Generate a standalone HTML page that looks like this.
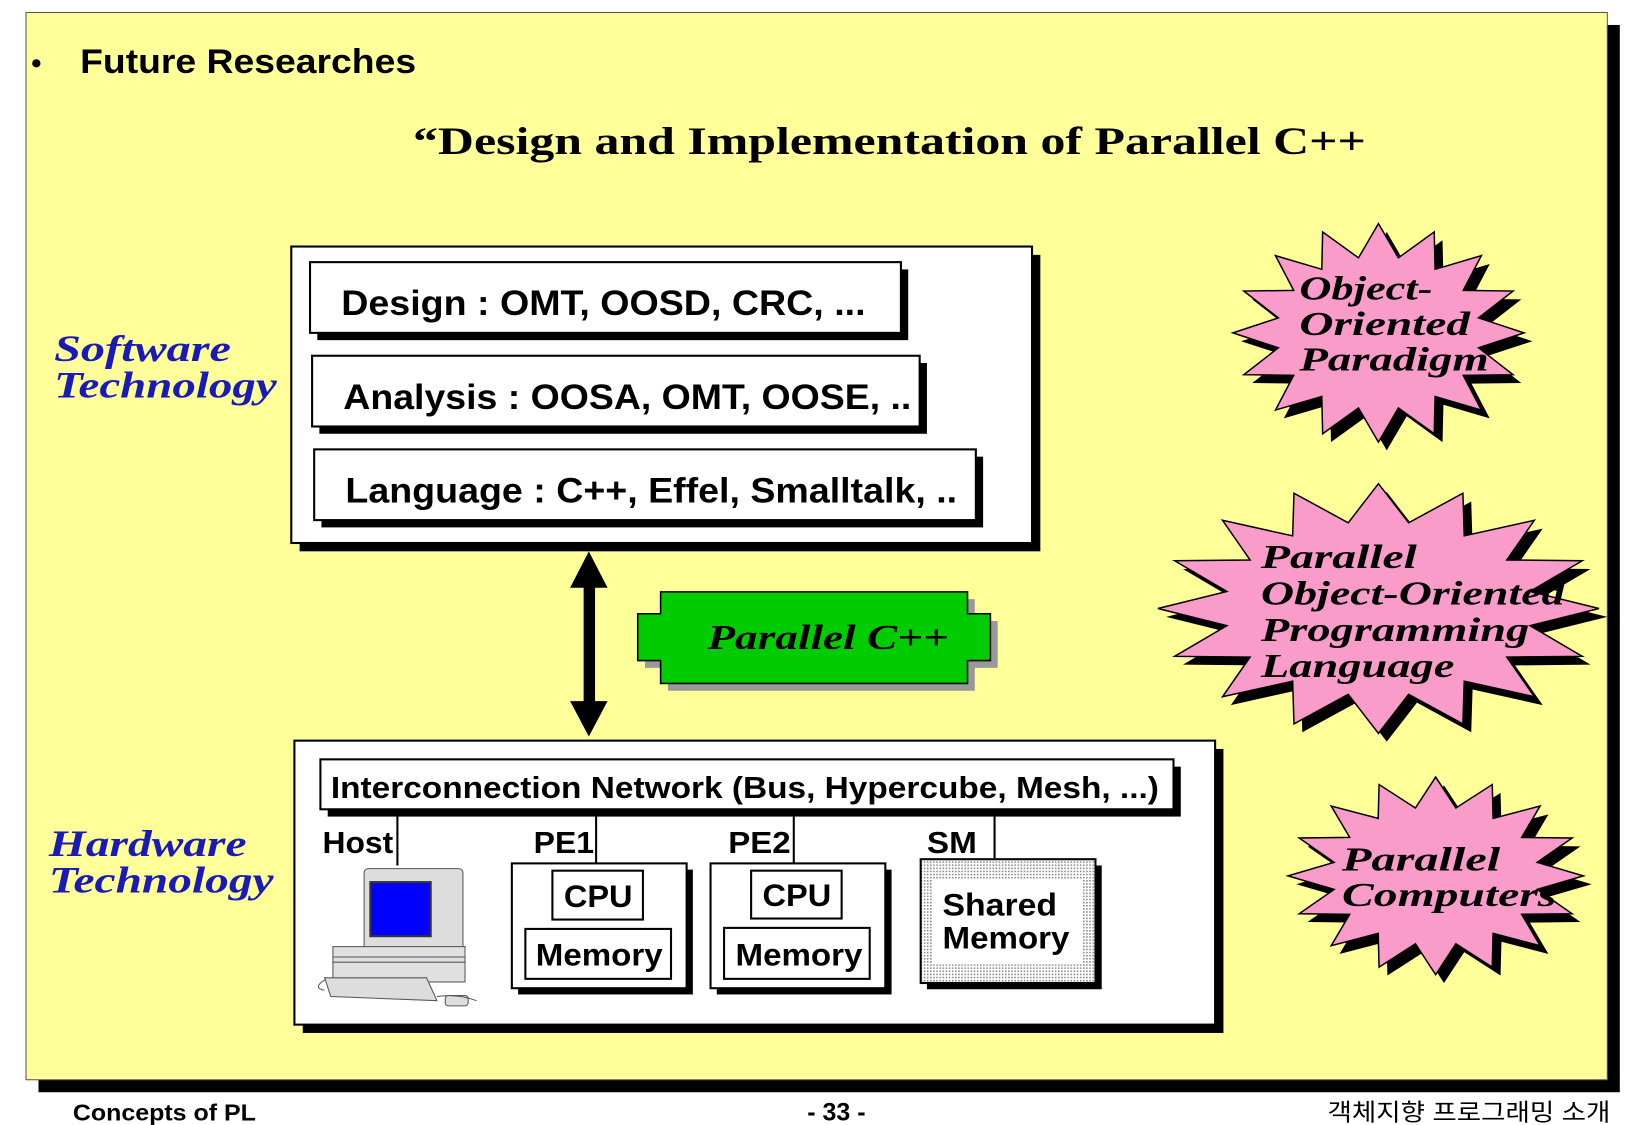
<!DOCTYPE html>
<html><head><meta charset="utf-8"><style>
html,body{margin:0;padding:0;background:#fff;}
svg{display:block;}
.a{font-family:"Liberation Sans",Arial,sans-serif;font-weight:bold;}
.s{font-family:"Liberation Serif",serif;font-weight:bold;}
.si{font-family:"Liberation Serif",serif;font-weight:bold;font-style:italic;}
</style></head><body>
<svg width="1625" height="1125" viewBox="0 0 1562 1081.5" preserveAspectRatio="none" xmlns="http://www.w3.org/2000/svg">
<defs>
<polygon id="st" vector-effect="non-scaling-stroke" points="100,0 68.7,13.7 92.4,38.3 58.2,38.9 70.7,70.7 38.9,58.2 38.3,92.4 13.7,68.7 0,100 -13.7,68.7 -38.3,92.4 -38.9,58.2 -70.7,70.7 -58.2,38.9 -92.4,38.3 -68.7,13.7 -100,0 -68.7,-13.7 -92.4,-38.3 -58.2,-38.9 -70.7,-70.7 -38.9,-58.2 -38.3,-92.4 -13.7,-68.7 0,-100 13.7,-68.7 38.3,-92.4 38.9,-58.2 70.7,-70.7 58.2,-38.9 92.4,-38.3 68.7,-13.7"/>
<pattern id="dots" width="3" height="3" patternUnits="userSpaceOnUse"><rect width="3" height="3" fill="#fff"/><rect width="1.5" height="1.5" fill="#888"/></pattern>
</defs>
<rect x="0" y="0" width="1562" height="1082" fill="#fff"/>
<rect x="37" y="24" width="1520" height="1026" fill="#000"/>
<rect x="25" y="12" width="1520" height="1026" fill="#ffff99" stroke="#555" stroke-width="1"/>
<text x="30" y="70" class="a" font-size="28">•</text>
<text x="77" y="70" class="a" font-size="33" textLength="323" lengthAdjust="spacingAndGlyphs">Future Researches</text>
<text x="397" y="148" class="s" font-size="38" textLength="916" lengthAdjust="spacingAndGlyphs">“Design and Implementation of Parallel C++</text>

<text x="52" y="347" class="si" font-size="36" fill="#1a1ab8" textLength="170" lengthAdjust="spacingAndGlyphs">Software</text>
<text x="52" y="382" class="si" font-size="36" fill="#1a1ab8" textLength="214" lengthAdjust="spacingAndGlyphs">Technology</text>
<rect x="288" y="245" width="712" height="285" fill="#000"/>
<rect x="280" y="237" width="712" height="285" fill="#fff" stroke="#000" stroke-width="2"/>
<rect x="305" y="259" width="568" height="68" fill="#000"/>
<rect x="298" y="252" width="568" height="68" fill="#fff" stroke="#000" stroke-width="2"/>
<text x="328" y="303" class="a" font-size="34" textLength="504" lengthAdjust="spacingAndGlyphs">Design : OMT, OOSD, CRC, ...</text>
<rect x="307" y="349" width="584" height="68" fill="#000"/>
<rect x="300" y="342" width="584" height="68" fill="#fff" stroke="#000" stroke-width="2"/>
<text x="330" y="393" class="a" font-size="34" textLength="546" lengthAdjust="spacingAndGlyphs">Analysis : OOSA, OMT, OOSE, ..</text>
<rect x="309" y="439" width="636" height="68" fill="#000"/>
<rect x="302" y="432" width="636" height="68" fill="#fff" stroke="#000" stroke-width="2"/>
<text x="332" y="483" class="a" font-size="34" textLength="588" lengthAdjust="spacingAndGlyphs">Language : C++, Effel, Smalltalk, ..</text>

<rect x="561" y="560" width="11" height="120" fill="#000"/>
<polygon points="566,530 584,565 548,565" fill="#000"/>
<polygon points="566,708 584,674 548,674" fill="#000"/>

<polygon points="642,576 937,576 937,597 959,597 959,642 937,642 937,664 642,664 642,642 620,642 620,597 642,597" fill="#999"/>
<polygon points="635,569 930,569 930,590 952,590 952,635 930,635 930,657 635,657 635,635 613,635 613,590 635,590" fill="#00cc00" stroke="#000" stroke-width="1.5"/>
<text x="680" y="624" class="si" font-size="34" textLength="232" lengthAdjust="spacingAndGlyphs">Parallel C++</text>

<text x="47" y="823" class="si" font-size="36" fill="#1a1ab8" textLength="190" lengthAdjust="spacingAndGlyphs">Hardware</text>
<text x="47" y="858" class="si" font-size="36" fill="#1a1ab8" textLength="216" lengthAdjust="spacingAndGlyphs">Technology</text>
<rect x="291" y="720" width="885" height="273" fill="#000"/>
<rect x="283" y="712" width="885" height="273" fill="#fff" stroke="#000" stroke-width="2"/>
<rect x="315" y="737" width="820" height="48" fill="#000"/>
<rect x="308" y="730" width="820" height="48" fill="#fff" stroke="#000" stroke-width="2"/>
<text x="318" y="767" class="a" font-size="29" textLength="796" lengthAdjust="spacingAndGlyphs">Interconnection Network (Bus, Hypercube, Mesh, ...)</text>
<g stroke="#000" stroke-width="2">
<line x1="382" y1="778" x2="382" y2="832"/>
<line x1="573" y1="778" x2="573" y2="830"/>
<line x1="763" y1="778" x2="763" y2="830"/>
<line x1="956" y1="778" x2="956" y2="825"/>
</g>
<text x="310" y="820" class="a" font-size="29" textLength="68" lengthAdjust="spacingAndGlyphs">Host</text>
<text x="513" y="820" class="a" font-size="29" textLength="58" lengthAdjust="spacingAndGlyphs">PE1</text>
<text x="700" y="820" class="a" font-size="29" textLength="60" lengthAdjust="spacingAndGlyphs">PE2</text>
<text x="891" y="820" class="a" font-size="29" textLength="48" lengthAdjust="spacingAndGlyphs">SM</text>

<rect x="498" y="836" width="168" height="120" fill="#000"/>
<rect x="492" y="830" width="168" height="120" fill="#fff" stroke="#000" stroke-width="2"/>
<rect x="531" y="837" width="87" height="47" fill="#fff" stroke="#000" stroke-width="2"/>
<text x="542" y="872" class="a" font-size="30" textLength="66" lengthAdjust="spacingAndGlyphs">CPU</text>
<rect x="505" y="893" width="140" height="48" fill="#fff" stroke="#000" stroke-width="2"/>
<text x="515" y="928" class="a" font-size="30" textLength="122" lengthAdjust="spacingAndGlyphs">Memory</text>

<rect x="689" y="836" width="168" height="120" fill="#000"/>
<rect x="683" y="830" width="168" height="120" fill="#fff" stroke="#000" stroke-width="2"/>
<rect x="722" y="837" width="87" height="46" fill="#fff" stroke="#000" stroke-width="2"/>
<text x="733" y="871" class="a" font-size="30" textLength="66" lengthAdjust="spacingAndGlyphs">CPU</text>
<rect x="696" y="892" width="140" height="49" fill="#fff" stroke="#000" stroke-width="2"/>
<text x="707" y="928" class="a" font-size="30" textLength="122" lengthAdjust="spacingAndGlyphs">Memory</text>

<rect x="891" y="832" width="168" height="119" fill="#000"/>
<rect x="885" y="826" width="168" height="119" fill="url(#dots)" stroke="#000" stroke-width="2"/>
<rect x="896" y="845" width="145" height="82" fill="#fff"/>
<text x="906" y="880" class="a" font-size="30" textLength="110" lengthAdjust="spacingAndGlyphs">Shared</text>
<text x="906" y="912" class="a" font-size="30" textLength="122" lengthAdjust="spacingAndGlyphs">Memory</text>

<g stroke="#555" stroke-width="1">
<rect x="350" y="835" width="95" height="80" rx="4" fill="#ddd"/>
<rect x="356" y="848" width="58" height="52" fill="#0000ff" stroke="#333" stroke-width="2"/>
<rect x="320" y="910" width="127" height="34" fill="#e0e0e0"/>
<line x1="320" y1="920" x2="447" y2="920"/>
<line x1="320" y1="925" x2="447" y2="925"/>
<polygon points="312,940 410,940 420,962 318,958" fill="#ddd"/>
<rect x="428" y="957" width="22" height="10" rx="3" fill="#ddd"/>
<path d="M312,942 Q300,950 312,952" fill="none"/>
<path d="M420,958 Q440,955 458,962" fill="none"/>
</g>

<g fill="#000"><use href="#st" transform="translate(1333,328) scale(1.4,1.05)"/>
<use href="#st" transform="translate(1333,593) scale(2.12,1.2)"/>
<use href="#st" transform="translate(1388,850) scale(1.42,0.95)"/></g>
<g fill="#f99cc9" stroke="#000" stroke-width="1.5"><use href="#st" transform="translate(1325,320) scale(1.4,1.05)"/>
<use href="#st" transform="translate(1325,585) scale(2.12,1.2)"/>
<use href="#st" transform="translate(1380,842) scale(1.42,0.95)"/></g>
<g class="si" font-size="33">
<text x="1249" y="288" textLength="128" lengthAdjust="spacingAndGlyphs">Object-</text>
<text x="1249" y="322" textLength="164" lengthAdjust="spacingAndGlyphs">Oriented</text>
<text x="1249" y="356" textLength="182" lengthAdjust="spacingAndGlyphs">Paradigm</text>
<text x="1212" y="546" textLength="150" lengthAdjust="spacingAndGlyphs">Parallel</text>
<text x="1212" y="581" textLength="292" lengthAdjust="spacingAndGlyphs">Object-Oriented</text>
<text x="1212" y="616" textLength="258" lengthAdjust="spacingAndGlyphs">Programming</text>
<text x="1212" y="651" textLength="186" lengthAdjust="spacingAndGlyphs">Language</text>
<text x="1290" y="837" textLength="152" lengthAdjust="spacingAndGlyphs">Parallel</text>
<text x="1290" y="871" textLength="206" lengthAdjust="spacingAndGlyphs">Computers</text>
</g>

<text x="70" y="1077" class="a" font-size="22" textLength="176" lengthAdjust="spacingAndGlyphs">Concepts of PL</text>
<text x="804" y="1077" class="a" font-size="24" text-anchor="middle">- 33 -</text>
<text x="1276" y="1077" font-family="'Liberation Sans','Noto Sans CJK KR',sans-serif" font-size="23" textLength="272" lengthAdjust="spacingAndGlyphs">객체지향 프로그래밍 소개</text>
</svg>
</body></html>
